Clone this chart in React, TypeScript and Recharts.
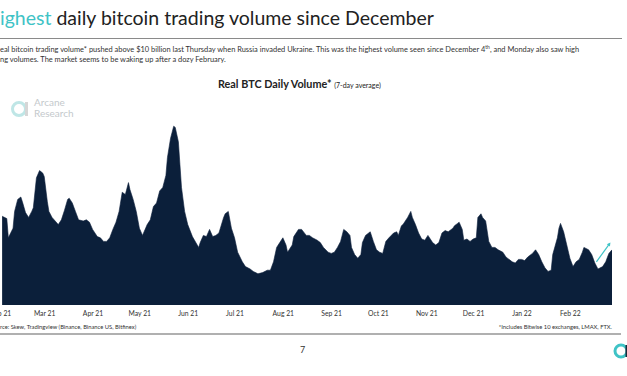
import React from "react";
import { AreaChart, Area, XAxis, YAxis, ReferenceLine } from "recharts";

// days counted from 1 Feb 2021
const days = [
  2, 5, 6, 9, 10, 12, 14, 15, 17, 19, 21, 22, 24, 26, 28, 29, 31, 32, 34, 38, 40, 42, 44, 45, 47, 49, 51, 54, 56, 58,
  60, 63, 65, 67, 69, 71, 73, 75, 77, 79, 81, 83, 84, 86, 88, 90, 92, 95, 97, 99, 101, 103, 105, 107, 108, 110, 111,
  112, 113, 115, 116, 117, 119, 121, 124, 128, 129, 131, 133, 135, 137, 139, 141, 144, 145, 147, 149, 151, 153, 156,
  158, 161, 163, 166, 169, 172, 174, 176, 178, 180, 182, 184, 185, 188, 189, 192, 194, 197, 199, 201, 204, 206, 208,
  211, 213, 215, 217, 219, 221, 223, 225, 226, 228, 230, 232, 233, 235, 238, 240, 242, 244, 246, 248, 250, 253, 255,
  256, 258, 259, 262, 264, 265, 267, 269, 271, 273, 275, 278, 280, 282, 284, 286, 288, 291, 292, 294, 295, 297, 298,
  300, 302, 304, 306, 307, 309, 310, 312, 314, 316, 318, 320, 323, 325, 326, 329, 331, 333, 335, 337, 339, 342, 344,
  346, 348, 350, 352, 354, 355, 358, 359, 360, 362, 364, 366, 368, 370, 372, 374, 375, 378, 380, 382, 384, 387, 389,
  391, 393,
];

// real BTC volume, 7-day average, $bn
const volume = [
  7.4, 7.2, 5.6, 6.4, 7.8, 8.8, 9.0, 8.6, 7.7, 7.3, 7.8, 8.1, 10.6, 11.2, 11.0, 10.7, 8.6, 7.8, 7.3, 6.7, 7.1, 7.9,
  8.8, 8.9, 8.5, 7.8, 7.1, 7.0, 7.1, 6.9, 6.3, 5.7, 5.6, 5.3, 5.3, 5.6, 6.3, 6.9, 7.8, 9.4, 9.2, 10.2, 9.6, 8.8, 7.8,
  6.4, 5.8, 6.7, 7.1, 8.2, 8.5, 9.5, 9.8, 10.8, 12.3, 13.9, 14.4, 14.9, 14.8, 13.6, 11.7, 9.8, 7.8, 6.7, 5.7, 4.8,
  5.2, 5.8, 5.7, 6.3, 5.7, 5.8, 6.0, 7.3, 7.6, 7.8, 6.4, 5.6, 4.4, 3.6, 3.2, 3.0, 2.8, 2.6, 2.7, 2.9, 2.9, 3.6, 4.8,
  5.2, 5.6, 5.0, 4.4, 5.0, 5.7, 6.3, 6.3, 5.8, 5.8, 5.6, 5.4, 5.2, 4.8, 4.4, 4.3, 4.4, 4.8, 5.3, 6.3, 6.1, 5.8, 4.8,
  4.2, 3.9, 4.2, 5.2, 5.8, 6.1, 5.3, 4.6, 4.4, 4.3, 5.3, 5.6, 6.0, 6.1, 5.8, 6.6, 6.7, 7.3, 7.8, 7.3, 6.7, 6.0, 5.5,
  5.4, 5.8, 5.2, 5.0, 5.2, 6.0, 6.2, 6.1, 6.4, 6.6, 6.8, 6.9, 6.3, 5.4, 5.5, 5.3, 5.5, 5.6, 7.3, 7.6, 7.3, 7.0, 5.3,
  4.8, 4.8, 4.6, 4.4, 4.0, 3.9, 3.6, 3.5, 3.8, 3.8, 3.7, 4.0, 4.3, 4.6, 4.2, 3.6, 3.1, 2.8, 2.9, 4.2, 5.6, 6.4, 6.8,
  6.1, 5.0, 3.9, 3.2, 3.6, 3.8, 4.4, 4.8, 4.6, 4.2, 3.5, 3.0, 3.2, 3.6, 4.3, 4.6,
];

const monthTicks = [0, 28, 59, 89, 120, 150, 181, 212, 242, 273, 303, 334, 365];
const monthLabels = [
  "Feb 21", "Mar 21", "Apr 21", "May 21", "Jun 21", "Jul 21", "Aug 21",
  "Sep 21", "Oct 21", "Nov 21", "Dec 21", "Jan 22", "Feb 22",
];

const data = days.map((d, i) => ({ day: d, volume: volume[i] }));

const NAVY = "#0b1f3a";
const TEAL = "#3fc3c6";

const Arrow = (props: any) => {
  const { x1, y1, x2, y2 } = props;
  if (x1 == null) return null;
  const a = Math.atan2(y2 - y1, x2 - x1);
  const s = 4;
  const p1 = `${x2},${y2}`;
  const p2 = `${x2 - s * Math.cos(a - 0.5)},${y2 - s * Math.sin(a - 0.5)}`;
  const p3 = `${x2 - s * Math.cos(a + 0.5)},${y2 - s * Math.sin(a + 0.5)}`;
  return (
    <g>
      <line x1={x1} y1={y1} x2={x2 - 2 * Math.cos(a)} y2={y2 - 2 * Math.sin(a)} stroke={TEAL} strokeWidth={1.2} />
      <polygon points={`${p1} ${p2} ${p3}`} fill={TEAL} />
    </g>
  );
};

export default function App() {
  const abs = (top: number, left: number, extra: React.CSSProperties = {}): React.CSSProperties => ({
    position: "absolute",
    top,
    left,
    whiteSpace: "nowrap",
    ...extra,
  });

  return (
    <div
      style={{
        position: "fixed",
        top: 0,
        left: 0,
        width: 627,
        height: 376,
        overflow: "hidden",
        background: "#fff",
        fontFamily: "Lato, 'Open Sans', sans-serif",
        color: "#222",
      }}
    >
      <div style={abs(6, 0, { fontSize: 19.5, lineHeight: "24px" })}>
        <span style={{ color: TEAL }}>ighest</span> daily bitcoin trading volume since December
      </div>
      <div style={abs(38, 0, { width: 622, height: 1, background: "#8a8a8a" })} />
      <div style={abs(42, 0, { fontSize: 7.45, lineHeight: "10px", color: "#333" })}>
        eal bitcoin trading volume* pushed above $10 billion last Thursday when Russia invaded Ukraine. This was the
        highest volume seen since December 4<sup style={{ fontSize: 5 }}>th</sup>, and Monday also saw high
      </div>
      <div style={abs(55, 0, { fontSize: 7.45, lineHeight: "10px", color: "#333" })}>
        ng volumes. The market seems to be waking up after a dozy February.
      </div>

      <div style={abs(77, 218, { fontSize: 10.8, lineHeight: "14px", fontWeight: 700, color: "#222" })}>
        Real BTC Daily Volume* <span style={{ fontSize: 7, fontWeight: 400 }}>(7-day average)</span>
      </div>

      <svg style={abs(98, 10)} width={20} height={22} viewBox="0 0 20 22">
        <circle cx={9} cy={11} r={6.5} fill="none" stroke="#bfe6e6" strokeWidth={3} />
        <rect x={15} y={4} width={3} height={14} fill="#d6d6d6" />
      </svg>
      <div style={abs(97, 34, { fontSize: 10, lineHeight: "11px", color: "#c4c9cc" })}>
        Arcane
        <br />
        Research
      </div>

      <div style={abs(113, -1)}>
        <AreaChart width={613} height={212} data={data} margin={{ top: 0, right: 0, bottom: 0, left: 0 }}>
          <XAxis
            dataKey="day"
            type="number"
            domain={[0, 393]}
            ticks={monthTicks}
            tickFormatter={(v: number) => monthLabels[monthTicks.indexOf(v)] ?? ""}
            interval={0}
            axisLine={false}
            tickLine={false}
            tickSize={0}
            tickMargin={6}
            height={20}
            tick={{ fill: "#333", fontSize: 6.8, dx: 2 }}
            allowDataOverflow
          />
          <YAxis hide domain={[0, 16]} allowDataOverflow />
          <Area
            type="linear"
            dataKey="volume"
            stroke={NAVY}
            strokeWidth={0.6}
            fill={NAVY}
            fillOpacity={1}
            isAnimationActive={false}
          />
          <ReferenceLine
            segment={[
              { x: 383, y: 3.6 },
              { x: 392, y: 5.2 },
            ]}
            ifOverflow="visible"
            shape={Arrow}
          />
        </AreaChart>
      </div>

      <div style={abs(323, 0, { fontSize: 5.8, color: "#333" })}>
        rce: Skew, Tradingview (Binance, Binance US, Bitfinex)
      </div>
      <div style={{ ...abs(323, 0, { fontSize: 5.8, color: "#333" }), left: "auto", right: 15 }}>
        *Includes Bitwise 10 exchanges, LMAX, FTX.
      </div>
      <div style={abs(333, 0, { width: 621, height: 1.5, background: "#b0b0b0" })} />
      <div style={abs(344, 300, { fontSize: 9, color: "#333" })}>7</div>

      <svg style={abs(342, 612)} width={16} height={18} viewBox="0 0 16 18">
        <circle cx={9} cy={9} r={6} fill="none" stroke={TEAL} strokeWidth={3} />
        <path d="M 15 3 L 15 15" stroke="#1a2a3a" strokeWidth={3} />
      </svg>
    </div>
  );
}
